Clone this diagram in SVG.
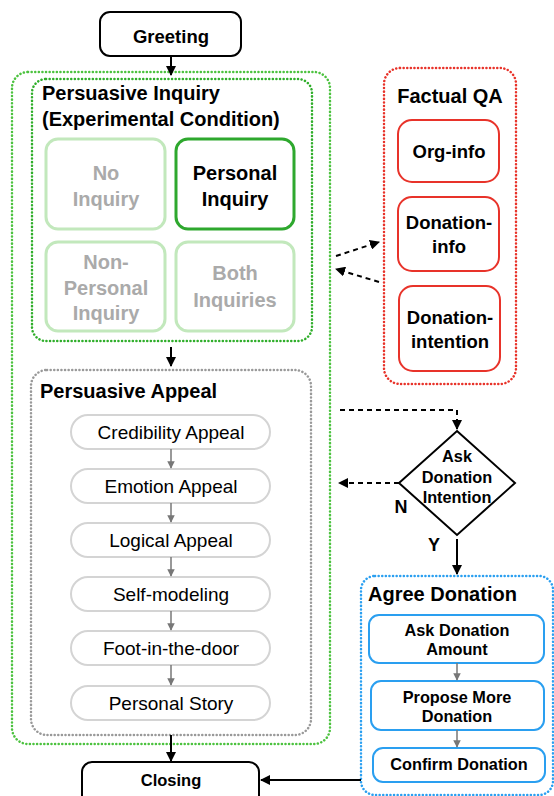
<svg xmlns="http://www.w3.org/2000/svg" width="554" height="796" viewBox="0 0 554 796">
<defs>
<style>
text{font-family:"Liberation Sans",Arial,sans-serif;font-weight:bold;text-anchor:middle;fill:#000}
.t{font-size:20px;text-anchor:start}
.g{fill:#aaa;font-size:20px}
.b19{font-size:20px}
.b17{font-size:18.5px}
.b15{font-size:16.3px}
.r16{font-size:19px;font-weight:normal}
.lg{fill:#fff;stroke:#c2e8bc;stroke-width:3}
.pill{fill:#fff;stroke:#d4d4d4;stroke-width:2}
.red{fill:#fff;stroke:#e8332a;stroke-width:2}
.blue{fill:#fff;stroke:#2a9ff0;stroke-width:2}
.blk{fill:#fff;stroke:#000;stroke-width:2}
.dot{fill:none;stroke-width:2.5;stroke-dasharray:0.1 3.5;stroke-linecap:round}
.c{fill:none;stroke:#000;stroke-width:2}
.cg{fill:none;stroke:#777;stroke-width:1.5}
.cd{fill:none;stroke:#000;stroke-width:2;stroke-dasharray:5 4}
</style>
<marker id="a" viewBox="0 0 10 10" refX="9" refY="5" markerWidth="5" markerHeight="5" orient="auto" markerUnits="strokeWidth"><path d="M0,0 L10,5 L0,10 z" fill="#000"/></marker>
<marker id="ag" viewBox="0 0 10 10" refX="9" refY="5" markerWidth="5" markerHeight="5" orient="auto" markerUnits="strokeWidth"><path d="M0,0 L10,5 L0,10 z" fill="#777"/></marker>
</defs>

<g id="persuasive-inquiry-outer">
<rect x="12" y="72" width="318" height="672" rx="16" class="dot" stroke="#4cc23f"/>
</g>

<g id="persuasive-inquiry">
<rect x="32" y="79" width="280" height="262" rx="14" class="dot" stroke="#2fae2a"/>
<text class="t" x="42" y="100">Persuasive Inquiry</text>
<text class="t" x="42" y="126">(Experimental Condition)</text>
</g>
<g id="no-inquiry">
<rect x="46" y="139" width="119" height="90" rx="12" class="lg"/>
<text class="g" x="106" y="180">No</text>
<text class="g" x="106" y="206">Inquiry</text>
</g>
<g id="personal-inquiry">
<rect x="176" y="139" width="118" height="90" rx="12" fill="#fff" stroke="#2ea82e" stroke-width="3"/>
<text class="b19" x="235" y="180">Personal</text>
<text class="b19" x="235" y="206">Inquiry</text>
</g>
<g id="non-personal-inquiry">
<rect x="46" y="242" width="119" height="89" rx="12" class="lg"/>
<text class="g" x="106" y="269">Non-</text>
<text class="g" x="106" y="295">Personal</text>
<text class="g" x="106" y="320">Inquiry</text>
</g>
<g id="both-inquiries">
<rect x="176" y="242" width="118" height="89" rx="12" class="lg"/>
<text class="g" x="235" y="280">Both</text>
<text class="g" x="235" y="307">Inquiries</text>
</g>

<g id="persuasive-appeal">
<rect x="31" y="370" width="280" height="365" rx="16" class="dot" stroke="#999"/>
<text class="t" x="40" y="398">Persuasive Appeal</text>
</g>
<g id="credibility-appeal"><rect x="71" y="415" width="199" height="34" rx="17" class="pill"/><text class="r16" x="171" y="439">Credibility Appeal</text></g>
<g id="emotion-appeal"><rect x="71" y="469" width="199" height="34" rx="17" class="pill"/><text class="r16" x="171" y="493">Emotion Appeal</text></g>
<g id="logical-appeal"><rect x="71" y="523" width="199" height="34" rx="17" class="pill"/><text class="r16" x="171" y="547">Logical Appeal</text></g>
<g id="self-modeling"><rect x="71" y="577" width="199" height="34" rx="17" class="pill"/><text class="r16" x="171" y="601">Self-modeling</text></g>
<g id="foot-in-the-door"><rect x="71" y="631" width="199" height="34" rx="17" class="pill"/><text class="r16" x="171" y="655">Foot-in-the-door</text></g>
<g id="personal-story"><rect x="71" y="686" width="199" height="34" rx="17" class="pill"/><text class="r16" x="171" y="710">Personal Story</text></g>

<g id="greeting">
<rect x="100" y="12" width="141" height="44" rx="10" class="blk"/>
<text class="b17" x="171" y="43">Greeting</text>
</g>
<g id="closing">
<rect x="82" y="762" width="177" height="44" rx="10" class="blk"/>
<text font-size="16.5" x="171" y="786">Closing</text>
</g>

<g id="factual-qa">
<rect x="384" y="68" width="132" height="316" rx="16" class="dot" stroke="#e8332a"/>
<text class="b19" x="450" y="103">Factual QA</text>
</g>
<g id="org-info"><rect x="398" y="120" width="101" height="62" rx="14" class="red"/><text class="b17" x="449" y="158">Org-info</text></g>
<g id="donation-info"><rect x="398" y="197" width="101" height="74" rx="14" class="red"/><text class="b17" x="449" y="229">Donation-</text><text class="b17" x="449" y="253">info</text></g>
<g id="donation-intention"><rect x="399" y="286" width="101" height="85" rx="14" class="red"/><text class="b17" x="450" y="324">Donation-</text><text class="b17" x="450" y="348">intention</text></g>

<g id="ask-donation-intention">
<polygon points="457,431 515,483 457,535 399,483" class="blk"/>
<text class="b15" x="457" y="462">Ask</text>
<text class="b15" x="457" y="483">Donation</text>
<text class="b15" x="457" y="503">Intention</text>
</g>

<g id="agree-donation">
<rect x="361" y="576" width="192" height="219" rx="14" class="dot" stroke="#2a9ff0"/>
<text class="t" x="368" y="601">Agree Donation</text>
</g>
<g id="ask-donation-amount"><rect x="369" y="615" width="175" height="48" rx="10" class="blue"/><text class="b15" x="457" y="636">Ask Donation</text><text class="b15" x="457" y="655">Amount</text></g>
<g id="propose-more-donation"><rect x="371" y="681" width="173" height="49" rx="10" class="blue"/><text class="b15" x="457" y="703">Propose More</text><text class="b15" x="457" y="722">Donation</text></g>
<g id="confirm-donation"><rect x="373" y="748" width="172" height="34" rx="10" class="blue"/><text class="b15" x="459" y="770">Confirm Donation</text></g>

<g id="labels">
<text font-size="18" x="401" y="513">N</text>
<text font-size="18" x="434" y="551">Y</text>
</g>

<g id="connectors">
<line x1="171" y1="56" x2="171" y2="75" class="c" marker-end="url(#a)"/>
<line x1="171" y1="347" x2="171" y2="366" class="c" marker-end="url(#a)"/>
<line x1="171" y1="735" x2="171" y2="761" class="c" marker-end="url(#a)"/>
<line x1="361" y1="780" x2="261" y2="780" class="c" marker-end="url(#a)"/>
<line x1="171" y1="449" x2="171" y2="468" class="cg" marker-end="url(#ag)"/>
<line x1="171" y1="503" x2="171" y2="522" class="cg" marker-end="url(#ag)"/>
<line x1="171" y1="557" x2="171" y2="576" class="cg" marker-end="url(#ag)"/>
<line x1="171" y1="611" x2="171" y2="630" class="cg" marker-end="url(#ag)"/>
<line x1="171" y1="665" x2="171" y2="685" class="cg" marker-end="url(#ag)"/>
<line x1="457" y1="663" x2="457" y2="680" class="cg" marker-end="url(#ag)"/>
<line x1="457" y1="730" x2="457" y2="747" class="cg" marker-end="url(#ag)"/>
<line x1="336" y1="256" x2="379" y2="242" class="cd" marker-end="url(#a)"/>
<line x1="379" y1="282" x2="336" y2="269" class="cd" marker-end="url(#a)"/>
<path d="M340,410 H457 V429" class="cd" marker-end="url(#a)"/>
<line x1="399" y1="483" x2="339" y2="483" class="cd" marker-end="url(#a)"/>
<line x1="457" y1="539" x2="457" y2="574" class="c" marker-end="url(#a)"/>
</g>
</svg>
